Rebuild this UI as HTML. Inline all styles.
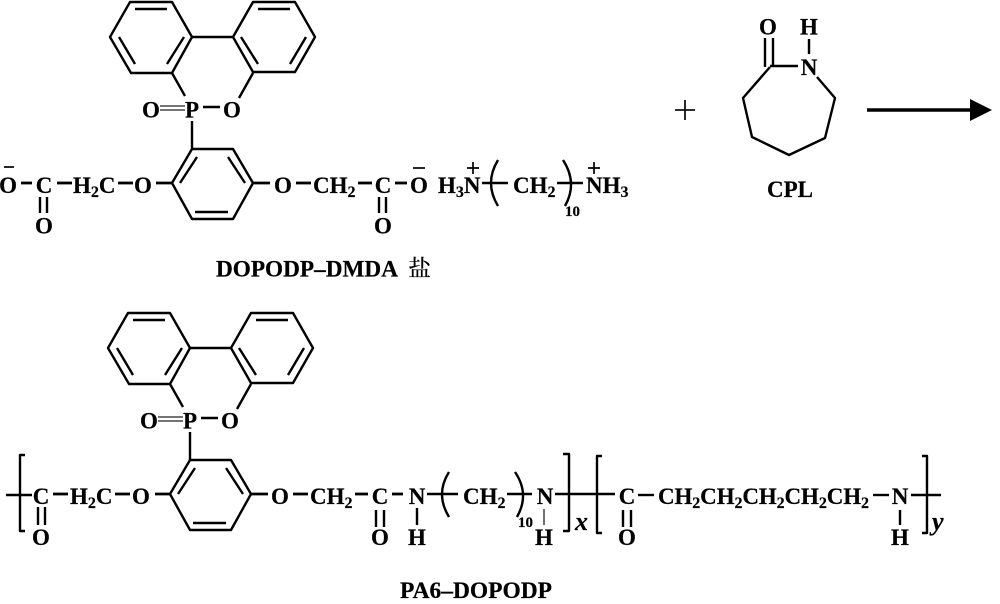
<!DOCTYPE html>
<html><head><meta charset="utf-8"><style>
html,body{margin:0;padding:0;background:#fff}
svg{display:block;filter:blur(.3px)}
text{font-family:"Liberation Serif","Noto Serif CJK SC",serif;font-weight:bold;font-size:23px;fill:#000;stroke:#000;stroke-width:.2}
.m{text-anchor:middle}
.s{font-size:16px}
.n{font-size:15px}
.i{font-style:italic;font-size:26px}
.b{stroke:#000;stroke-width:2.8;fill:none}
.r{stroke:#000;stroke-width:2.4;fill:none;stroke-linejoin:round}
.t{stroke:#222;stroke-width:1.3;fill:none}
.u{stroke:#000;stroke-width:1.7;fill:none}
</style></head><body>
<svg width="1000" height="604" viewBox="0 0 1000 604" xmlns="http://www.w3.org/2000/svg">
<rect width="1000" height="604" fill="#fff"/>

<g>
<path class="r" d="M130 2H172L192 37L172 73H131L110 37Z"/>
<path class="r" d="M253 2H295L315 37L295 72H253L233 37Z"/>
<path class="r" d="M192 37H233M135 9H167M119 37L135 64M184 37L167 64M258 9H290M306 37L290 64M241 37L258 64"/>
<path class="r" d="M172 73L185 96M253 73L239 98"/>
<path class="r" d="M203 107H220M192 121V149"/>
<path class="t" d="M160 106H185M160 110H185"/>
<path class="r" d="M192 149H233L253 183L233 219H192L172 183Z"/>
<path class="r" d="M197 157L180 183M228 157L245 183M195 212H228"/>
<text class="m" x="151" y="117.500">O</text>
<text class="m" x="192" y="117.500">P</text>
<text class="m" x="232" y="117.500">O</text>
</g>

<!-- top chain -->
<text class="m" x="8" y="193">O</text>
<path class="u" d="M4 167H14"/>
<path class="b" d="M21 183H32"/>
<text class="m" x="44" y="193">C</text>
<path class="b" d="M57 183H72"/>
<path class="r" d="M40 197V213M47 197V213"/>
<text class="m" x="44" y="233.500">O</text>
<text x="73" y="193">H<tspan class="s" dy="4">2</tspan><tspan dy="-4">C</tspan></text>
<path class="b" d="M118 183H133"/>
<text class="m" x="143" y="193">O</text>
<path class="b" d="M156 183H172M253 183H270"/>
<text class="m" x="283" y="193">O</text>
<path class="b" d="M296 183H311"/>
<text x="313" y="193">CH<tspan class="s" dy="4">2</tspan></text>
<path class="b" d="M358 183H372"/>
<text class="m" x="383" y="193">C</text>
<path class="r" d="M379 197V213M386 197V213"/>
<text class="m" x="383" y="233.500">O</text>
<path class="b" d="M395 183H407"/>
<text class="m" x="419" y="193">O</text>
<path class="u" d="M413 168H425"/>
<text x="438" y="193">H<tspan class="s" dy="4">3</tspan><tspan dy="-4">N</tspan></text>
<path class="u" d="M473 162V174M467 168H479"/>
<path class="r" d="M482 183H508"/>
<path class="r" d="M498 160Q484 183 498 206M563 160Q578 183 565 206"/>
<text x="513" y="193">CH<tspan class="s" dy="4">2</tspan></text>
<path class="r" d="M557 183H583"/>
<text class="n" x="565" y="216">10</text>
<text x="586" y="193">NH<tspan class="s" dy="4">3</tspan></text>
<path class="u" d="M594 162V174M588 168H600"/>
<text x="216" y="276.500" textLength="182" lengthAdjust="spacingAndGlyphs">DOPODP–DMDA</text>
<text x="408" y="276" style="font-weight:500;stroke-width:0">盐</text>

<!-- CPL -->
<path d="M675 110H695M685 100V120" stroke="#111" stroke-width="1.8" fill="none"/>
<text class="m" x="768" y="34.500">O</text>
<text class="m" x="809" y="34.500">H</text>
<text class="m" x="809" y="75">N</text>
<path class="r" d="M765 38V67M773 38V66M809 39V54M770 66H798"/>
<path class="r" d="M770 67L743 98L752 137L789 155L825 138L835 98L817 77"/>
<text class="m" x="790" y="197">CPL</text>
<path d="M867 110H972" stroke="#000" stroke-width="3.4"/>
<path d="M970 99L992 110L970 121Z" fill="#000"/>

<!-- bottom -->
<g transform="translate(-2 311)">
<path class="r" d="M130 2H172L192 37L172 73H131L110 37Z"/>
<path class="r" d="M253 2H295L315 37L295 72H253L233 37Z"/>
<path class="r" d="M192 37H233M135 9H167M119 37L135 64M184 37L167 64M258 9H290M306 37L290 64M241 37L258 64"/>
<path class="r" d="M172 73L185 96M253 73L239 98"/>
<path class="r" d="M203 107H220M192 121V149"/>
<path class="t" d="M160 106H185M160 110H185"/>
<path class="r" d="M192 149H233L253 183L233 219H192L172 183Z"/>
<path class="r" d="M197 157L180 183M228 157L245 183M195 212H228"/>
<text class="m" x="151" y="117.500">O</text>
<text class="m" x="192" y="117.500">P</text>
<text class="m" x="232" y="117.500">O</text>
</g>

<path class="r" d="M25 455H20V531H25M6 495H32"/>
<text class="m" x="41" y="504">C</text>
<path class="r" d="M38 507V525M45 507V525"/>
<text class="m" x="41" y="545">O</text>
<path class="b" d="M53 494H68"/>
<text x="70" y="504">H<tspan class="s" dy="4">2</tspan><tspan dy="-4">C</tspan></text>
<path class="b" d="M115 494H130"/>
<text class="m" x="141" y="504">O</text>
<path class="b" d="M155 494H170M251 494H268"/>
<text class="m" x="280" y="504">O</text>
<path class="b" d="M293 494H308"/>
<text x="310" y="504">CH<tspan class="s" dy="4">2</tspan></text>
<path class="b" d="M355 494H368"/>
<text class="m" x="380" y="504">C</text>
<path class="r" d="M376 510V527M384 510V527"/>
<text class="m" x="380" y="545">O</text>
<path class="b" d="M392 494H403"/>
<text class="m" x="417" y="504">N</text>
<path class="r" d="M417 508V525"/>
<text class="m" x="417" y="545">H</text>
<path class="r" d="M427 494H458"/>
<path class="r" d="M449 472Q435 494 449 517M515 472Q530 494 517 517"/>
<text x="463" y="504">CH<tspan class="s" dy="4">2</tspan></text>
<path class="r" d="M507 494H532"/>
<text class="n" x="518" y="527">10</text>
<text class="m" x="545" y="504">N</text>
<path class="t" d="M544 509V525"/>
<text class="m" x="544" y="545">H</text>
<path class="r" d="M555 494H615M563 454H569V531H563M602 456H597V533H602"/>
<text class="i" x="575" y="530">x</text>
<text class="m" x="627" y="504">C</text>
<path class="r" d="M623 510V527M631 510V527"/>
<text class="m" x="627" y="545">O</text>
<path class="r" d="M638 495H654"/>
<text x="658" y="504" textLength="211">CH<tspan class="s" dy="4">2</tspan><tspan dy="-4">CH</tspan><tspan class="s" dy="4">2</tspan><tspan dy="-4">CH</tspan><tspan class="s" dy="4">2</tspan><tspan dy="-4">CH</tspan><tspan class="s" dy="4">2</tspan><tspan dy="-4">CH</tspan><tspan class="s" dy="4">2</tspan></text>
<path class="r" d="M873 495H889"/>
<text class="m" x="900" y="504">N</text>
<path class="r" d="M900 510V525"/>
<text class="m" x="900" y="545">H</text>
<path class="r" d="M911 495H941M922 456H927V533H922"/>
<text class="i" x="932" y="530">y</text>
<text x="400" y="598" textLength="152" lengthAdjust="spacingAndGlyphs">PA6–DOPODP</text>
</svg>
</body></html>
